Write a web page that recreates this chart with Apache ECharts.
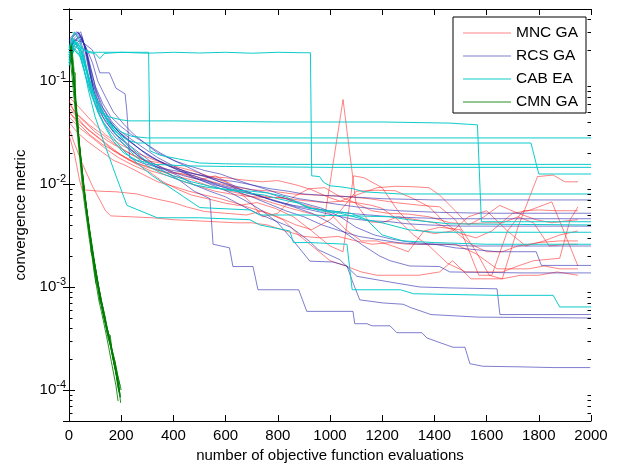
<!DOCTYPE html>
<html>
<head>
<meta charset="utf-8">
<script src="https://cdn.jsdelivr.net/npm/echarts@6/dist/echarts.min.js"></script>
<style>
  html, body { margin: 0; padding: 0; background: #fff; }
  #chart { width: 619px; height: 465px; }
</style>
</head>
<body>
<div id="chart"></div>
<script>
// Convergence metric vs. number of objective function evaluations, one polyline per run.
const methodNames = ['MNC GA', 'RCS GA', 'CAB EA', 'CMN GA'];
const xTicks = [0, 200, 400, 600, 800, 1000, 1200, 1400, 1600, 1800, 2000];
const yDecades = [1e-4, 1e-3, 1e-2, 1e-1];

const mncRuns = [
  [[0,0.065],[20,0.05],[60,0.04],[100,0.032],[150,0.026],[200,0.022],[260,0.018],[320,0.016],[400,0.013],[480,0.012],[550,0.0105],[620,0.0095],[700,0.0088],[780,0.0085],[860,0.008],[950,0.0078],[1050,0.0076],[1150,0.0072],[1250,0.0066],[1350,0.0062],[1420,0.006],[1480,0.0045],[1560,0.0022],[1610,0.0013],[1660,0.0012],[1720,0.0038],[1795,0.0118],[1855,0.0122],[1900,0.0105],[1950,0.0105]],
  [[0,0.05],[30,0.042],[80,0.033],[140,0.025],[200,0.019],[260,0.016],[330,0.014],[400,0.012],[470,0.011],[540,0.0095],[600,0.0087],[680,0.0078],[760,0.0068],[850,0.0058],[920,0.0052],[980,0.0048],[1050,0.066],[1100,0.0064],[1150,0.0043],[1200,0.0042],[1260,0.0048],[1330,0.0045],[1400,0.0042],[1470,0.0036],[1540,0.0026],[1600,0.0022],[1660,0.0022],[1720,0.0025],[1800,0.0027],[1880,0.0028],[1950,0.0028]],
  [[0,0.03],[20,0.02],[40,0.011],[50,0.0088],[120,0.0085],[180,0.0084],[260,0.008],[330,0.0072],[400,0.0066],[450,0.006],[520,0.0054],[600,0.0052],[680,0.005],[740,0.0055],[800,0.0048],[870,0.004],[930,0.0036],[1000,0.0045],[1040,0.0055],[1100,0.0085],[1180,0.0087],[1250,0.0086],[1320,0.0072],[1380,0.006],[1440,0.0042],[1500,0.0033],[1560,0.003],[1620,0.0035],[1700,0.0052],[1760,0.0055],[1850,0.0067],[1950,0.0016]],
  [[0,0.055],[30,0.045],[70,0.034],[120,0.027],[170,0.021],[230,0.017],[300,0.0145],[370,0.013],[430,0.0125],[500,0.011],[560,0.012],[620,0.01],[680,0.0082],[760,0.0075],[840,0.0072],[900,0.0069],[980,0.0066],[1040,0.0068],[1100,0.0066],[1160,0.0062],[1200,0.0058],[1260,0.0045],[1320,0.0032],[1380,0.0025],[1450,0.0017],[1520,0.0014],[1600,0.0014],[1660,0.0014],[1720,0.0016],[1780,0.0018],[1880,0.0019],[1920,0.0045],[1950,0.006]],
  [[0,0.045],[40,0.035],[90,0.028],[140,0.022],[190,0.018],[250,0.015],[310,0.013],[360,0.0105],[420,0.0088],[470,0.0078],[530,0.0072],[600,0.0065],[650,0.0062],[720,0.0066],[790,0.0058],[860,0.0048],[930,0.0035],[1000,0.0025],[1050,0.0022],[1090,0.012],[1130,0.0115],[1200,0.0092],[1260,0.0055],[1330,0.0036],[1400,0.0033],[1470,0.0035],[1530,0.0048],[1600,0.0055],[1680,0.0035],[1750,0.0025],[1820,0.0028],[1880,0.0032],[1950,0.0035]],
  [[0,0.035],[20,0.025],[50,0.016],[90,0.0095],[140,0.0055],[160,0.0049],[240,0.0048],[320,0.0047],[400,0.0045],[480,0.0044],[560,0.0043],[640,0.0042],[700,0.0042],[760,0.004],[830,0.0035],[900,0.0031],[960,0.003],[1030,0.0031],[1100,0.0028],[1160,0.0026],[1230,0.0027],[1300,0.0026],[1400,0.0026],[1480,0.0026],[1560,0.0021],[1640,0.0015],[1700,0.0015],[1760,0.0015],[1820,0.0016],[1880,0.0015],[1950,0.0015]],
  [[0,0.06],[30,0.048],[80,0.037],[130,0.03],[180,0.024],[230,0.02],[290,0.017],[350,0.016],[420,0.014],[480,0.0125],[550,0.0115],[600,0.0105],[650,0.0085],[700,0.0065],[740,0.0048],[800,0.0052],[860,0.0075],[920,0.009],[980,0.0092],[1040,0.0075],[1100,0.0065],[1160,0.0055],[1220,0.0052],[1300,0.0051],[1380,0.0048],[1460,0.0042],[1520,0.0041],[1600,0.0042],[1660,0.0042],[1720,0.0048],[1780,0.0042],[1840,0.0025],[1900,0.0026],[1950,0.0026]],
  [[0,0.04],[30,0.032],[70,0.026],[120,0.021],[170,0.017],[220,0.015],[280,0.0125],[340,0.0105],[400,0.0095],[460,0.0085],[520,0.0078],[580,0.0072],[640,0.0065],[700,0.0058],[760,0.0052],[820,0.0045],[880,0.0032],[940,0.0024],[1000,0.0018],[1060,0.0016],[1120,0.0014],[1180,0.0013],[1260,0.0013],[1340,0.0013],[1420,0.0014],[1470,0.0018],[1540,0.0012],[1600,0.0012],[1660,0.0012],[1730,0.0013],[1800,0.0013],[1870,0.0014],[1950,0.0013]],
  [[0,0.07],[40,0.055],[90,0.04],[140,0.03],[200,0.024],[260,0.02],[330,0.017],[400,0.015],[470,0.0135],[540,0.0118],[600,0.0115],[660,0.011],[740,0.0105],[800,0.0108],[870,0.0098],[930,0.0088],[990,0.0075],[1040,0.0068],[1100,0.0078],[1180,0.0092],[1250,0.0095],[1320,0.0094],[1380,0.0092],[1420,0.0078],[1480,0.0055],[1530,0.004],[1590,0.0048],[1650,0.0062],[1720,0.0052],[1790,0.0045],[1850,0.0042],[1910,0.0044],[1950,0.0045]],
  [[0,0.05],[30,0.04],[80,0.03],[130,0.024],[190,0.02],[250,0.016],[310,0.0135],[380,0.012],[440,0.0105],[500,0.0095],[560,0.0085],[620,0.008],[680,0.0076],[750,0.0074],[820,0.0074],[880,0.0065],[950,0.0058],[1000,0.0052],[1060,0.0036],[1120,0.0028],[1180,0.0028],[1240,0.0025],[1300,0.0022],[1360,0.0035],[1420,0.0038],[1500,0.0036],[1570,0.0013],[1620,0.0013],[1680,0.0035],[1740,0.0055],[1800,0.0056],[1870,0.0055],[1950,0.0055]]
];

const rcsRuns = [
  [[0,0.19],[15,0.24],[40,0.27],[55,0.2],[75,0.1],[95,0.065],[130,0.04],[180,0.028],[230,0.022],[290,0.017],[350,0.014],[420,0.011],[480,0.0085],[540,0.0072],[552,0.0026],[615,0.0024],[628,0.00158],[705,0.00158],[724,0.00094],[880,0.00094],[911,0.00058],[1088,0.00058],[1095,0.00044],[1142,0.00044],[1161,0.00042],[1230,0.00042],[1256,0.00036],[1352,0.00036],[1371,0.00032],[1471,0.00026],[1517,0.00026],[1536,0.00018],[1586,0.00017],[1717,0.000168],[1855,0.000165],[1997,0.000165]],
  [[0,0.18],[15,0.23],[40,0.28],[60,0.22],[80,0.12],[100,0.07],[130,0.045],[170,0.032],[210,0.026],[250,0.02],[300,0.016],[360,0.014],[420,0.012],[480,0.0098],[540,0.0085],[600,0.0075],[660,0.0062],[720,0.0052],[780,0.0045],[850,0.0038],[920,0.0028],[955,0.0023],[1038,0.00184],[1103,0.00127],[1218,0.00113],[1344,0.001],[1459,0.00098],[1640,0.00096],[1651,0.00054],[2000,0.00054]],
  [[0,0.2],[20,0.26],[45,0.3],[65,0.2],[85,0.11],[110,0.065],[140,0.045],[180,0.034],[220,0.028],[270,0.022],[320,0.018],[380,0.015],[440,0.013],[500,0.011],[560,0.0095],[620,0.0082],[680,0.0068],[740,0.0055],[800,0.0042],[860,0.0028],[923,0.00178],[1011,0.00175],[1065,0.0016],[1084,0.00117],[1114,0.00075],[1203,0.0007],[1280,0.00068],[1310,0.00063],[1387,0.00054],[1566,0.00051],[2000,0.0005]],
  [[0,0.16],[20,0.22],[50,0.26],[70,0.18],[90,0.1],[120,0.06],[160,0.04],[200,0.03],[250,0.024],[300,0.019],[360,0.016],[420,0.0135],[480,0.0115],[540,0.0105],[600,0.0095],[660,0.0088],[720,0.0078],[790,0.0068],[860,0.006],[930,0.0052],[1000,0.0042],[1070,0.0032],[1130,0.0025],[1190,0.002],[1230,0.0018],[1305,0.0016],[1420,0.00158],[1459,0.0014],[1740,0.00137],[2000,0.00137]],
  [[0,0.22],[15,0.27],[35,0.3],[55,0.24],[75,0.13],[95,0.08],[120,0.055],[150,0.042],[190,0.032],[230,0.026],[280,0.021],[340,0.017],[400,0.0145],[460,0.013],[520,0.0118],[580,0.0105],[640,0.0095],[700,0.0088],[760,0.0082],[830,0.0072],[900,0.0065],[970,0.0058],[1040,0.0048],[1100,0.0038],[1170,0.0032],[1240,0.0029],[1320,0.0027],[1400,0.0026],[1480,0.0024],[1560,0.0023],[1640,0.0022],[1720,0.0022],[1790,0.0022],[1810,0.00162],[2000,0.00162]],
  [[0,0.2],[20,0.25],[50,0.24],[90,0.2],[118,0.12],[155,0.12],[180,0.085],[215,0.075],[222,0.05],[232,0.018],[280,0.016],[340,0.0145],[400,0.0135],[460,0.0128],[520,0.012],[580,0.011],[640,0.0105],[700,0.0098],[770,0.009],[840,0.0085],[900,0.008],[960,0.0078],[1040,0.0076],[1120,0.0074],[1200,0.0072],[1300,0.0071],[1400,0.007],[1600,0.007],[2000,0.007]],
  [[0,0.24],[20,0.28],[40,0.29],[60,0.22],[80,0.14],[100,0.09],[130,0.06],[160,0.045],[200,0.036],[240,0.03],[290,0.025],[340,0.02],[400,0.017],[460,0.015],[520,0.0135],[580,0.0125],[640,0.011],[700,0.0098],[760,0.0088],[820,0.0078],[880,0.0072],[950,0.0068],[1020,0.0064],[1100,0.006],[1180,0.0057],[1260,0.0055],[1340,0.0054],[1420,0.0053],[1600,0.0052],[2000,0.0052]],
  [[0,0.17],[25,0.21],[50,0.25],[70,0.2],[90,0.15],[110,0.1],[140,0.07],[170,0.05],[210,0.038],[250,0.03],[300,0.024],[350,0.02],[410,0.0165],[470,0.014],[530,0.0118],[590,0.0102],[650,0.009],[720,0.0078],[790,0.0068],[860,0.0062],[930,0.0058],[1000,0.0055],[1070,0.0052],[1150,0.005],[1240,0.0048],[1330,0.0047],[1450,0.0046],[2000,0.0046]],
  [[0,0.25],[15,0.28],[30,0.3],[50,0.27],[70,0.17],[90,0.09],[110,0.055],[140,0.04],[180,0.03],[220,0.025],[270,0.02],[320,0.016],[380,0.0135],[440,0.012],[500,0.011],[560,0.0098],[620,0.009],[680,0.0082],[740,0.0075],[800,0.0068],[870,0.006],[940,0.0055],[1010,0.005],[1080,0.0046],[1150,0.0044],[1230,0.0043],[1300,0.0041],[1380,0.004],[1500,0.0039],[2000,0.0039]],
  [[0,0.19],[20,0.24],[45,0.27],[65,0.21],[85,0.13],[105,0.08],[130,0.055],[165,0.04],[200,0.032],[240,0.027],[290,0.022],[340,0.018],[400,0.015],[460,0.0125],[520,0.011],[580,0.0095],[640,0.0085],[700,0.0075],[760,0.0065],[830,0.0055],[900,0.0048],[970,0.004],[1040,0.0035],[1110,0.0031],[1180,0.0029],[1260,0.0027],[1340,0.0026],[1440,0.0026],[1540,0.0025],[2000,0.0025]]
];

const cabRuns = [
  [[0,0.15],[10,0.2],[25,0.24],[45,0.21],[70,0.19],[100,0.185],[118,0.165],[135,0.185],[200,0.19],[300,0.186],[400,0.19],[500,0.187],[600,0.19],[700,0.186],[800,0.19],[900,0.188],[925,0.188],[930,0.012],[960,0.0118],[975,0.0104],[1000,0.0096],[1038,0.0094],[1088,0.009],[1130,0.0084],[1268,0.008],[2000,0.008]],
  [[0,0.17],[15,0.26],[35,0.23],[60,0.2],[90,0.19],[150,0.19],[250,0.19],[305,0.19],[310,0.021],[350,0.019],[420,0.0175],[500,0.016],[600,0.0157],[800,0.0155],[1200,0.0155],[2000,0.0155]],
  [[0,0.14],[20,0.22],[40,0.2],[60,0.14],[80,0.09],[100,0.065],[120,0.05],[150,0.045],[200,0.042],[230,0.041],[400,0.041],[800,0.04],[1200,0.04],[1460,0.039],[1530,0.038],[1565,0.0375],[1580,0.0043],[2000,0.0043]],
  [[0,0.2],[15,0.25],[40,0.22],[60,0.15],[80,0.1],[100,0.07],[130,0.05],[160,0.038],[200,0.032],[240,0.029],[300,0.028],[2000,0.028]],
  [[0,0.18],[20,0.24],[45,0.2],[65,0.13],[90,0.08],[120,0.055],[150,0.04],[180,0.032],[220,0.027],[260,0.025],[600,0.025],[1000,0.025],[1400,0.025],[1770,0.025],[1800,0.0125],[2000,0.0125]],
  [[0,0.16],[20,0.21],[40,0.18],[60,0.12],[80,0.08],[110,0.05],[140,0.035],[170,0.026],[210,0.02],[260,0.017],[330,0.0155],[450,0.015],[600,0.0148],[1000,0.0145],[2000,0.0145]],
  [[0,0.15],[20,0.2],[45,0.17],[65,0.11],[90,0.07],[120,0.045],[160,0.03],[210,0.021],[260,0.016],[320,0.012],[380,0.0095],[440,0.0075],[501,0.0059],[693,0.0056],[731,0.005],[900,0.005],[1100,0.0049],[1230,0.0048],[1300,0.0045],[1460,0.0041],[2000,0.004]],
  [[0,0.19],[25,0.23],[50,0.19],[70,0.12],[95,0.075],[125,0.05],[160,0.036],[200,0.026],[250,0.019],[300,0.015],[360,0.0125],[420,0.011],[480,0.0098],[540,0.0092],[620,0.0088],[700,0.0085],[760,0.0082],[830,0.0075],[900,0.0062],[960,0.0055],[1040,0.0052],[1120,0.0046],[1200,0.0042],[1300,0.0036],[1400,0.0034],[2000,0.0034]],
  [[0,0.21],[20,0.3],[40,0.25],[60,0.16],[80,0.1],[100,0.07],[130,0.05],[170,0.035],[220,0.025],[280,0.018],[340,0.014],[400,0.012],[470,0.0105],[540,0.0095],[600,0.0088],[680,0.0082],[750,0.0078],[800,0.0072],[880,0.0065],[920,0.0058],[1000,0.0055],[1080,0.0052],[1140,0.0045],[1200,0.0032],[1280,0.0028],[1400,0.0027],[1600,0.0026],[2000,0.0026]],
  [[0,0.2],[15,0.25],[35,0.21],[55,0.14],[75,0.08],[100,0.045],[130,0.027],[180,0.012],[222,0.0062],[338,0.0047],[500,0.0047],[693,0.0045],[731,0.004],[846,0.0035],[860,0.0027],[923,0.0027],[1065,0.0026],[1085,0.00094],[1270,0.00094],[1320,0.00086],[1640,0.00083],[1855,0.00083],[1880,0.00064],[2000,0.00064]]
];

const cmnRuns = [
  [[5,0.2],[12,0.16],[20,0.09],[28,0.05],[36,0.03],[45,0.017],[55,0.0095],[65,0.0058],[75,0.0037],[85,0.0024],[95,0.0016],[105,0.0012],[115,0.00085],[125,0.00065],[135,0.0005],[145,0.00038],[155,0.0003],[165,0.00023],[175,0.00017],[185,0.000125],[195,0.0001]],
  [[8,0.23],[15,0.23],[15,0.12],[24,0.12],[24,0.06],[32,0.045],[40,0.022],[48,0.015],[58,0.008],[66,0.0062],[74,0.0042],[84,0.0028],[84,0.0022],[96,0.0018],[102,0.0011],[112,0.001],[118,0.00072],[128,0.00068],[132,0.00052],[142,0.00042],[150,0.00032],[160,0.00026],[168,0.0002],[178,0.00016],[186,0.00011],[196,0.000085]],
  [[6,0.18],[14,0.13],[22,0.075],[30,0.04],[38,0.026],[46,0.016],[54,0.011],[62,0.0068],[70,0.0048],[80,0.0032],[90,0.0021],[98,0.0015],[108,0.0011],[118,0.00085],[126,0.00062],[136,0.00048],[146,0.00036],[156,0.00029],[166,0.00022],[176,0.00016],[186,0.00012],[192,0.000095]],
  [[10,0.22],[18,0.14],[26,0.07],[34,0.038],[42,0.02],[50,0.013],[58,0.0085],[68,0.0052],[76,0.0036],[86,0.0025],[94,0.0019],[104,0.0013],[112,0.00095],[122,0.0007],[130,0.00058],[140,0.00045],[150,0.00035],[158,0.00034],[164,0.00025],[174,0.0002],[184,0.00015],[192,0.00012],[200,0.0001]],
  [[4,0.17],[12,0.11],[20,0.065],[28,0.04],[36,0.024],[44,0.015],[52,0.009],[60,0.0062],[70,0.0041],[78,0.0029],[88,0.002],[96,0.0014],[106,0.001],[114,0.00075],[124,0.00058],[134,0.00044],[144,0.00033],[152,0.00026],[162,0.00019],[172,0.00014],[180,0.00011],[188,0.000078]],
  [[8,0.2],[16,0.12],[25,0.065],[33,0.036],[42,0.021],[50,0.014],[60,0.0085],[68,0.0058],[78,0.0038],[88,0.0026],[96,0.0019],[106,0.0013],[116,0.00095],[126,0.0007],[136,0.00055],[146,0.00041],[156,0.00031],[166,0.00024],[176,0.00019],[186,0.00014],[196,0.00011]],
  [[6,0.21],[14,0.14],[22,0.08],[30,0.046],[38,0.028],[48,0.016],[56,0.01],[64,0.0066],[74,0.0044],[82,0.003],[92,0.0021],[100,0.0015],[110,0.0011],[120,0.0008],[128,0.0006],[138,0.00047],[148,0.00038],[158,0.0003],[168,0.00022],[178,0.00017],[188,0.00012],[194,0.00009],[198,0.000075]],
  [[9,0.19],[17,0.11],[26,0.06],[34,0.034],[43,0.019],[52,0.0115],[62,0.0072],[72,0.0047],[82,0.0031],[90,0.0022],[100,0.0016],[108,0.0012],[118,0.00088],[128,0.00066],[138,0.0005],[148,0.00037],[158,0.00028],[168,0.00021],[178,0.00016],[188,0.00012],[196,0.00009]],
  [[5,0.22],[13,0.15],[21,0.085],[29,0.048],[38,0.026],[47,0.015],[57,0.0092],[66,0.006],[76,0.0039],[86,0.0027],[94,0.0019],[104,0.0014],[114,0.001],[124,0.00074],[134,0.00056],[144,0.00042],[154,0.00033],[164,0.00024],[172,0.00018],[182,0.00014],[190,0.000105],[198,0.000085]],
  [[7,0.2],[15,0.13],[24,0.07],[32,0.04],[40,0.024],[50,0.014],[58,0.009],[68,0.0056],[78,0.0036],[86,0.0026],[96,0.0018],[106,0.0013],[114,0.00095],[124,0.0007],[134,0.00052],[144,0.0004],[154,0.00031],[164,0.00025],[174,0.00018],[184,0.00013],[192,0.0001]]
];

const methodColors = ['rgba(255,30,30,0.55)', 'rgba(40,40,175,0.6)', 'rgba(0,200,200,0.95)', 'rgba(0,125,0,0.85)'];
const FONT = '"Liberation Sans", Arial, Helvetica, sans-serif';
const Y_MIN = 5e-5, Y_MAX = 0.5;

// Log-axis minor ticks at 2..9 x 10^k inside the frame
const minorTickValues = [];
for (let e = -5; e <= -1; e++) {
  for (let m = 2; m <= 9; m++) {
    const v = m * Math.pow(10, e);
    if (v > Y_MIN * 1.0001 && v < Y_MAX * 0.9999) minorTickValues.push(v);
  }
}

function runSeries(runs, idx) {
  return runs.map(run => ({
    name: methodNames[idx],
    type: 'line',
    data: run,
    symbol: 'none',
    silent: true,
    animation: false,
    lineStyle: { color: methodColors[idx], width: 1 },
    itemStyle: { color: methodColors[idx] },
    z: 2 + idx
  }));
}

const series = []
  .concat(runSeries(mncRuns, 0))
  .concat(runSeries(rcsRuns, 1))
  .concat(runSeries(cabRuns, 2))
  .concat(runSeries(cmnRuns, 3));

series.push({
  type: 'custom',
  silent: true,
  clip: false,
  z: 20,
  data: minorTickValues.map(v => [0, v]),
  renderItem: function (params, api) {
    const p = api.coord([0, api.value(1)]);
    const cs = params.coordSys;
    const y = Math.round(p[1]) + 0.5;
    return {
      type: 'group',
      children: [
        { type: 'line', shape: { x1: cs.x, y1: y, x2: cs.x + 3.5, y2: y }, style: { stroke: '#000', lineWidth: 1 } },
        { type: 'line', shape: { x1: cs.x + cs.width, y1: y, x2: cs.x + cs.width - 3.5, y2: y }, style: { stroke: '#000', lineWidth: 1 } }
      ]
    };
  }
});

function expLabel(value) {
  const e = Math.round(Math.log10(value));
  return '{b|10}{s|' + e + '}';
}

const axisLineStyle = { show: true, lineStyle: { color: '#000', width: 1 } };
const tickStyle = { show: true, inside: true, length: 6, lineStyle: { color: '#000', width: 1 } };

const option = {
  animation: false,
  backgroundColor: '#fff',
  grid: { left: 69, right: 28, top: 9, bottom: 44, containLabel: false, outerBoundsMode: 'none' },
  legend: {
    data: methodNames.map(n => ({ name: n, icon: 'rect' })),
    orient: 'vertical',
    left: 453,
    top: 17,
    itemWidth: 48,
    itemHeight: 1,
    itemGap: 7,
    padding: [8, 8, 3, 10],
    backgroundColor: '#fff',
    borderColor: '#000',
    borderWidth: 1,
    borderRadius: 0,
    selectedMode: false,
    textStyle: { fontFamily: FONT, fontSize: 15.5, color: '#000', lineHeight: 16 }
  },
  xAxis: [
    {
      type: 'value', min: xTicks[0], max: xTicks[xTicks.length - 1], interval: 200,
      position: 'bottom',
      name: 'number of objective function evaluations',
      nameLocation: 'middle', nameGap: 24,
      nameTextStyle: { fontFamily: FONT, fontSize: 15, color: '#000' },
      axisLine: axisLineStyle, axisTick: tickStyle,
      splitLine: { show: false },
      axisLabel: {
        fontFamily: FONT, fontSize: 15, color: '#000', margin: 7,
        showMinLabel: true, showMaxLabel: true,
        formatter: v => String(v)
      }
    },
    {
      type: 'value', min: xTicks[0], max: xTicks[xTicks.length - 1], interval: 200,
      position: 'top',
      axisLine: axisLineStyle, axisTick: tickStyle,
      splitLine: { show: false }, axisLabel: { show: false }
    }
  ],
  yAxis: [
    {
      type: 'log', logBase: 10, min: Y_MIN, max: Y_MAX,
      position: 'left',
      name: 'convergence metric',
      nameLocation: 'middle', nameGap: 40,
      nameTextStyle: { fontFamily: FONT, fontSize: 15, color: '#000' },
      axisLine: axisLineStyle, axisTick: tickStyle,
      splitLine: { show: false },
      axisLabel: {
        showMinLabel: false, showMaxLabel: false,
        margin: 3,
        formatter: expLabel,
        rich: {
          b: { fontFamily: FONT, fontSize: 15, color: '#000', lineHeight: 17 },
          s: { fontFamily: FONT, fontSize: 11, color: '#000', lineHeight: 11, padding: [0, 0, 11, 0] }
        }
      }
    },
    {
      type: 'log', logBase: 10, min: Y_MIN, max: Y_MAX,
      position: 'right',
      axisLine: axisLineStyle, axisTick: tickStyle,
      splitLine: { show: false }, axisLabel: { show: false }
    }
  ],
  series: series
};

const chart = echarts.init(document.getElementById('chart'), null, { renderer: 'canvas' });
chart.setOption(option);
</script>
</body>
</html>
